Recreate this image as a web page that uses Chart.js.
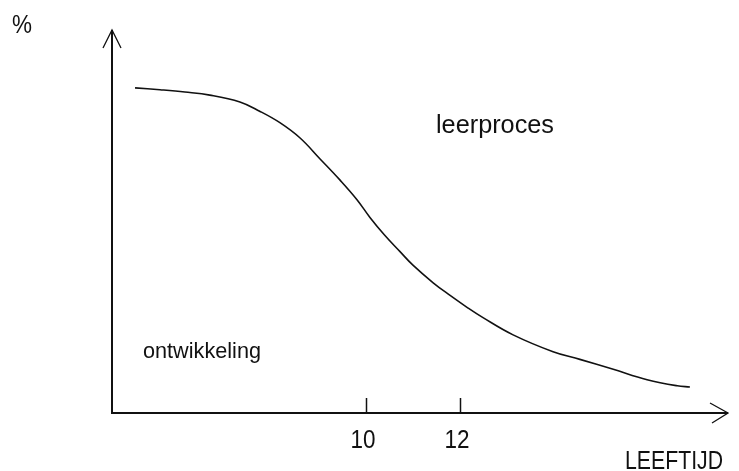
<!DOCTYPE html>
<html>
<head>
<meta charset="utf-8">
<script src="https://cdn.jsdelivr.net/npm/chart.js@4/dist/chart.umd.min.js"></script>
<style>
  html, body { margin: 0; padding: 0; background: #fff; }
  #wrap { width: 739px; height: 471px; }
</style>
</head>
<body>
<div id="wrap"><canvas id="grafiek"></canvas></div>
<script>
// leeftijd (jaren) en percentage
const leeftijd = [5.09, 5.62, 6.15, 6.68, 7.32, 7.74, 8.17, 8.6, 9.02, 9.45, 9.81, 10.09, 10.4, 10.72, 11.0, 11.43, 11.79, 12.15, 12.49, 13.13, 13.98, 14.55, 15.26, 15.98, 16.62, 16.89];
const procent = [84.9, 84.4, 83.8, 83.0, 81.2, 78.8, 75.8, 71.8, 66.4, 60.8, 55.7, 51.0, 46.4, 42.2, 38.6, 34.0, 30.7, 27.6, 24.9, 20.4, 16.0, 14.0, 11.4, 8.7, 7.1, 6.8];
const tickLabels = [10, 12];
const asTitels = { x: 'LEEFTIJD', y: '%' };
const gebieden = ['leerproces', 'ontwikkeling'];

const font = '"Liberation Sans", Arial, sans-serif';

const assen = {
    id: 'assen',
    afterDraw(chart) {
        const ctx = chart.ctx;
        const { left, right, top, bottom } = chart.chartArea;
        const xs = chart.scales.x;
        ctx.save();
        ctx.strokeStyle = '#111';
        ctx.fillStyle = '#111';

        // assen
        ctx.lineWidth = 2;
        ctx.beginPath();
        ctx.moveTo(left, top);
        ctx.lineTo(left, bottom);
        ctx.lineTo(right, bottom);
        ctx.stroke();

        // pijlpunten
        ctx.lineWidth = 1.3;
        ctx.beginPath();
        ctx.moveTo(left - 9, top + 18);
        ctx.lineTo(left, top);
        ctx.lineTo(left + 9, top + 18);
        ctx.moveTo(right - 18, bottom - 10);
        ctx.lineTo(right, bottom);
        ctx.lineTo(right - 16, bottom + 10);
        ctx.stroke();

        // tickjes en labels
        ctx.lineWidth = 1.5;
        ctx.font = '26px ' + font;
        ctx.textAlign = 'left';
        ctx.textBaseline = 'alphabetic';
        tickLabels.forEach(v => {
            const px = Math.round(xs.getPixelForValue(v)) + 0.5;
            ctx.beginPath();
            ctx.moveTo(px, bottom - 15);
            ctx.lineTo(px, bottom);
            ctx.stroke();
            ctx.fillText(String(v), px - 16, bottom + 35, 25);
        });

        // astitels
        ctx.fillText(asTitels.y, 12, 33, 20);
        ctx.fillText(asTitels.x, 625, 469, 98);

        // gebieden
        ctx.fillText(gebieden[0], 436, 133, 118);
        ctx.font = '22px ' + font;
        ctx.fillText(gebieden[1], 143, 358, 118);
        ctx.restore();
    }
};

new Chart(document.getElementById('grafiek'), {
    type: 'scatter',
    data: {
        datasets: [{
            data: leeftijd.map((x, i) => ({ x: x, y: procent[i] })),
            showLine: true,
            borderColor: '#111',
            borderWidth: 1.6,
            pointRadius: 0,
            tension: 0.4
        }]
    },
    options: {
        responsive: true,
        maintainAspectRatio: false,
        animation: false,
        layout: { padding: { left: 112, right: 11, top: 30, bottom: 58 } },
        plugins: { legend: { display: false }, tooltip: { enabled: false } },
        scales: {
            x: { type: 'linear', min: 4.6, max: 17.7, display: false },
            y: { type: 'linear', min: 0, max: 100, display: false }
        }
    },
    plugins: [assen]
});
</script>
</body>
</html>
